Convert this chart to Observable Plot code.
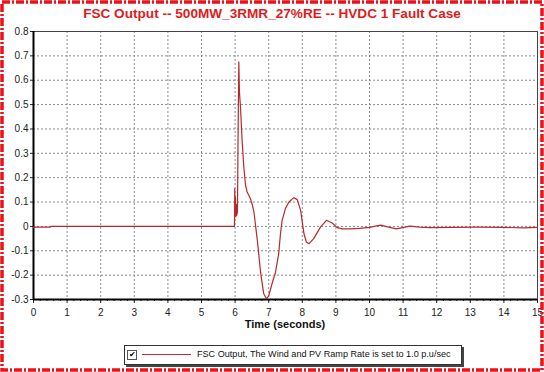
<!DOCTYPE html>
<html>
<head>
<meta charset="utf-8">
<script src="https://cdn.jsdelivr.net/npm/d3@7"></script>
<script src="https://cdn.jsdelivr.net/npm/@observablehq/plot@0.6"></script>
<style>
  html, body { margin: 0; padding: 0; background: #fff; }
  #wrap { position: relative; width: 544px; height: 372px; overflow: hidden; background: #fff; font-family: Arial, "Liberation Sans", sans-serif; }
  #title { position: absolute; left: 0; width: 544px; top: 6px; text-align: center; color: #e01b1b; font-weight: bold; font-size: 13.6px; }
  #plot { position: absolute; left: 0; top: 0; }
  #xlabel { position: absolute; left: 33px; width: 504px; top: 318px; text-align: center; font-weight: bold; font-size: 11px; color: #111; }
  #legend { position: absolute; left: 124px; top: 345px; width: 336px; height: 18px; border: 1px solid #333; box-shadow: 2px 2px 0 #444; background: #fff; }
  #legend .cb { position: absolute; left: 2px; top: 4px; width: 8px; height: 8px; border: 1px solid #555; font-size: 8px; line-height: 8px; text-align: center; }
  #legend .ln { position: absolute; left: 17px; top: 8px; width: 49px; height: 1px; background: #d0282b; }
  #legend .tx { position: absolute; left: 72px; top: 3px; font-size: 9.1px; color: #111; white-space: nowrap; }
  #border { position: absolute; left: 0; top: 0; pointer-events: none; }
</style>
</head>
<body>
<div id="wrap">
  <div id="plot"></div>
  <div id="title">FSC Output -- 500MW_3RMR_27%RE -- HVDC 1 Fault Case</div>
  <div id="xlabel">Time (seconds)</div>
  <div id="legend"><div class="cb">&#10004;</div><div class="ln"></div><div class="tx">FSC Output, The Wind and PV Ramp Rate is set to 1.0 p.u/sec</div></div>
  <svg id="border" width="544" height="372"><rect x="2" y="2" width="540" height="368" fill="none" stroke="#e8141c" stroke-width="3.5" stroke-dasharray="8,2,2,2"/></svg>
</div>
<script>
const time = [0, 0.5, 0.52, 5.98, 5.99, 6.00, 6.01, 6.02, 6.04, 6.05, 6.07, 6.09, 6.11, 6.13, 6.16, 6.21, 6.26, 6.31, 6.36, 6.40, 6.46, 6.51, 6.56, 6.66, 6.76, 6.85, 6.93, 7.00, 7.05, 7.12, 7.20, 7.30, 7.35, 7.40, 7.50, 7.60, 7.75, 7.85, 7.95, 8.05, 8.12, 8.20, 8.34, 8.54, 8.72, 8.89, 9.04, 9.19, 9.40, 9.70, 10.0, 10.33, 10.6, 10.8, 11.2, 11.5, 11.8, 12.5, 13.2, 14.0, 14.6, 15.0];
const fsc = [-0.003, -0.003, 0, 0, 0.155, 0.06, 0.12, 0.04, 0.09, 0.045, 0.06, 0.40, 0.675, 0.55, 0.49, 0.35, 0.243, 0.17, 0.14, 0.13, 0.112, 0.09, 0.06, -0.055, -0.19, -0.275, -0.297, -0.285, -0.26, -0.225, -0.19, -0.11, -0.03, 0.025, 0.074, 0.10, 0.118, 0.11, 0.066, -0.03, -0.064, -0.071, -0.05, -0.003, 0.025, 0.014, -0.005, -0.01, -0.01, -0.008, -0.004, 0.005, -0.004, -0.01, 0.001, -0.003, -0.005, -0.004, -0.003, -0.004, -0.006, -0.004];
const xTicks = d3.range(0, 16, 1);
const yTicks = d3.range(-3, 9, 1).map(d => d / 10);

const data = time.map((t, i) => ({t, v: fsc[i]}));
const fmt = d => String(+d.toFixed(1));

const chart = Plot.plot({
  width: 544, height: 330,
  marginLeft: 33, marginRight: 7, marginTop: 31, marginBottom: 31,
  style: {fontFamily: "Arial, 'Liberation Sans', sans-serif", fontSize: "10px", color: "#222", background: "transparent"},
  x: {domain: [0, 15]},
  y: {domain: [-0.3, 0.8]},
  marks: [
    Plot.gridX(xTicks.slice(1, -1), {stroke: "#8a8a8a", strokeOpacity: 1, strokeDasharray: "2,2"}),
    Plot.gridY(yTicks.slice(1, -1), {stroke: "#8a8a8a", strokeOpacity: 1, strokeDasharray: "2,2"}),
    Plot.frame({stroke: "#444", strokeWidth: 1}),
    Plot.axisX(d3.range(0, 15.01, 0.2).map(d => +d.toFixed(1)), {tickSize: 2, text: null, label: null, stroke: "#222"}),
    Plot.axisX(xTicks, {tickSize: 4, tickPadding: 5, tickFormat: fmt, label: null, stroke: "#222"}),
    Plot.axisY(yTicks, {tickSize: 3, tickPadding: 2, tickFormat: fmt, label: null, stroke: "#222"}),
    Plot.ruleY([-0.3], {stroke: "#000", strokeWidth: 2}),
    Plot.ruleX([0], {stroke: "#000", strokeWidth: 2}),
    Plot.line(data, {x: "t", y: "v", stroke: "#b8292c", strokeWidth: 1.2})
  ]
});
document.getElementById("plot").appendChild(chart);
</script>
</body>
</html>
